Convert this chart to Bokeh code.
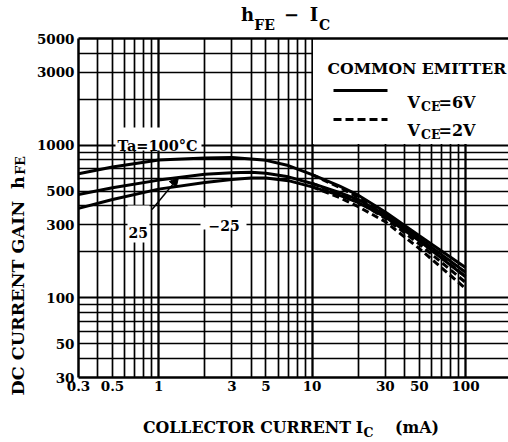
import math
from bokeh.plotting import figure
from bokeh.models import (FixedTicker, Grid, LogAxis, Label, Arrow, NormalHead,
                          CustomJSTickFormatter, Range1d)
from bokeh.embed import file_html
from bokeh.resources import INLINE

# ---------------- data ----------------
ic = [0.3, 0.5, 1, 2, 3, 4, 5, 7, 10, 15, 20, 30, 50, 100]
hfe_100_6v = [650, 720, 800, 825, 830, 812, 795, 735, 640, 540, 470, 365, 255, 158]
hfe_25_6v = [475, 525, 590, 645, 660, 665, 655, 620, 561, 490, 440, 350, 245, 147]
hfe_m25_6v = [385, 440, 515, 570, 595, 608, 610, 585, 533, 470, 420, 338, 236, 137]

ic_2v = [10, 15, 20, 30, 50, 100]
hfe_100_2v = [640, 530, 455, 350, 238, 138]
hfe_25_2v = [561, 480, 425, 332, 225, 126]
hfe_m25_2v = [533, 455, 395, 315, 210, 115]

x_ticks = [0.3, 0.5, 1, 3, 5, 10, 30, 50, 100]
y_ticks = [30, 50, 100, 300, 500, 1000, 3000, 5000]
x_grid_minor = [0.4, 0.5, 0.6, 0.7, 0.8, 0.9, 2, 3, 4, 5, 6, 7, 8, 9,
                20, 30, 40, 50, 60, 70, 80, 90]
x_grid_major = [1, 10, 100]
y_grid_minor = [40, 50, 60, 70, 80, 90, 200, 300, 400, 500, 600, 700, 800, 900,
                2000, 3000, 4000]
y_grid_major = [100, 1000]

# ---------------- layout ----------------
FONT = "DejaVu Serif"
FL, FB, FT = 78, 377, 38      # frame left / bottom / top in page px
W, H = 508, 442
FW, FH = W - FL, FB - FT
XDEC, YDEC = 153.4, FH / math.log10(5000 / 30)
x_end = 0.3 * 10 ** (FW / XDEC)

def xd(px):
    return 0.3 * 10 ** ((px - FL) / XDEC)

def yd(py):
    return 30 * 10 ** ((FB - py) / YDEC)

def sx(px):
    return px - FL

def sy(py):
    return FB - py

p = figure(width=W, height=H, x_axis_type="log", y_axis_type="log",
           x_range=Range1d(0.3, x_end), y_range=Range1d(30, 5000),
           output_backend="svg", toolbar_location=None,
           min_border_left=FL, min_border_right=0, min_border_top=FT,
           min_border_bottom=H - FB)
p.outline_line_color = None
p.background_fill_color = "white"

# grids
p.xgrid.ticker = FixedTicker(ticks=x_grid_minor)
p.ygrid.ticker = FixedTicker(ticks=y_grid_minor)
p.xgrid.grid_line_width = 1.7
p.ygrid.grid_line_width = 1.5
for g in (p.xgrid, p.ygrid):
    g.grid_line_color = "black"
    g.grid_line_alpha = 1
p.add_layout(Grid(dimension=0, ticker=FixedTicker(ticks=x_grid_major),
                  grid_line_color="black", grid_line_width=2.3))
p.add_layout(Grid(dimension=1, ticker=FixedTicker(ticks=y_grid_major),
                  grid_line_color="black", grid_line_width=2.2))

# axes
def style_axis(ax, size, standoff, line=False):
    ax.major_tick_out = 0
    ax.major_tick_in = 0
    ax.minor_tick_out = 0
    ax.minor_tick_in = 0
    if line:
        ax.axis_line_width = 2.5
        ax.axis_line_color = "black"
    else:
        ax.axis_line_color = None
    ax.major_label_text_font = FONT
    ax.major_label_text_font_style = "bold"
    ax.major_label_text_font_size = size
    ax.major_label_text_color = "black"
    ax.major_label_standoff = standoff

fmt = CustomJSTickFormatter(code="return tick.toString();")
p.xaxis[0].ticker = FixedTicker(ticks=x_ticks)
p.xaxis[0].formatter = fmt
style_axis(p.xaxis[0], "13.5px", 3, line=True)
p.yaxis[0].ticker = FixedTicker(ticks=y_ticks)
p.yaxis[0].formatter = fmt
style_axis(p.yaxis[0], "13.5px", 4, line=True)

def text_axis(labels, positions, size, standoff, orient="horizontal"):
    ax = LogAxis(ticker=FixedTicker(ticks=positions),
                 formatter=CustomJSTickFormatter(args=dict(labels=labels),
                                                 code="return labels[index];"))
    style_axis(ax, size, standoff)
    ax.major_label_orientation = orient
    return ax

top_axis = LogAxis(ticker=FixedTicker(ticks=[]))
style_axis(top_axis, "0px", 0, line=True)
p.add_layout(top_axis, "above")

# title  "hFE − IC"  (subscripts nearer the frame, main text outside)
p.add_layout(text_axis(["FE", "C"], [xd(264), xd(324)], "14px", 6), "above")
p.add_layout(text_axis(["h", "−", "I"], [xd(247), xd(291), xd(313.5)], "18px", -11), "above")

# x axis label  "COLLECTOR CURRENT  IC  (mA)"  (subscript slot first, then main text)
p.add_layout(text_axis(["C"], [xd(368)], "12.5px", 31), "below")
p.add_layout(text_axis(["COLLECTOR CURRENT", "I", "(mA)"],
                       [xd(246.5), xd(359), xd(416.5)], "15.8px", -25), "below")

# y axis label  "DC CURRENT GAIN  hFE"  (rotated)
p.add_layout(text_axis(["FE"], [yd(165)], "12.5px", 6, "vertical"), "left")
p.add_layout(text_axis(["DC  CURRENT  GAIN", "h"], [yd(291.5), yd(182)], "17.5px", -18,
                       "vertical"), "left")

# white label backgrounds (hide grid lines)
box_l = [xd(312.5), xd(115), xd(127), xd(200)]
box_r = [x_end * 2, xd(201), xd(149), xd(246)]
box_b = [yd(143.5), yd(150), yd(242), yd(229)]
box_t = [5000, yd(127), yd(205), yd(207)]
p.quad(left=box_l, right=box_r, bottom=box_b, top=box_t,
       fill_color="white", line_color=None)

# curves
for ys in (hfe_100_6v, hfe_25_6v, hfe_m25_6v):
    p.line(ic, ys, line_color="black", line_width=3)
for ys in (hfe_100_2v, hfe_25_2v, hfe_m25_2v):
    p.line(ic_2v, ys, line_color="black", line_width=3, line_dash="7 4")

# legend samples
p.line([xd(333), xd(387)], [yd(90), yd(90)], line_color="black", line_width=3)
p.line([xd(333), xd(387)], [yd(119), yd(119)], line_color="black", line_width=3,
       line_dash="8 4")

def lab(text, px, py, size, align="left", baseline="alphabetic"):
    p.add_layout(Label(x=sx(px), y=sy(py), x_units="screen", y_units="screen",
                       text=text, text_font=FONT, text_font_style="bold",
                       text_font_size=size, text_color="black",
                       text_align=align, text_baseline=baseline))

# legend texts
lab("COMMON EMITTER", 327, 68, "15.7px")
lab("V", 407, 101.5, "16px")
lab("CE", 420.5, 105.5, "12.5px")
lab("=6V", 438, 101.5, "16px")
lab("V", 407, 130, "16px")
lab("CE", 420.5, 134, "12.5px")
lab("=2V", 438, 130, "16px")

# curve labels
lab("Ta=100°C", 117, 145, "14.5px")
lab("25", 128, 232, "14px")
lab("−25", 208, 225, "14px")
p.add_layout(Arrow(x_start=sx(151.5), y_start=sy(209), x_end=sx(178), y_end=sy(177),
                   start_units="screen", end_units="screen",
                   line_color="black", line_width=1.5,
                   end=NormalHead(size=9, fill_color="black", line_color="black")))

open("out.html", "w").write(file_html(p, INLINE))
